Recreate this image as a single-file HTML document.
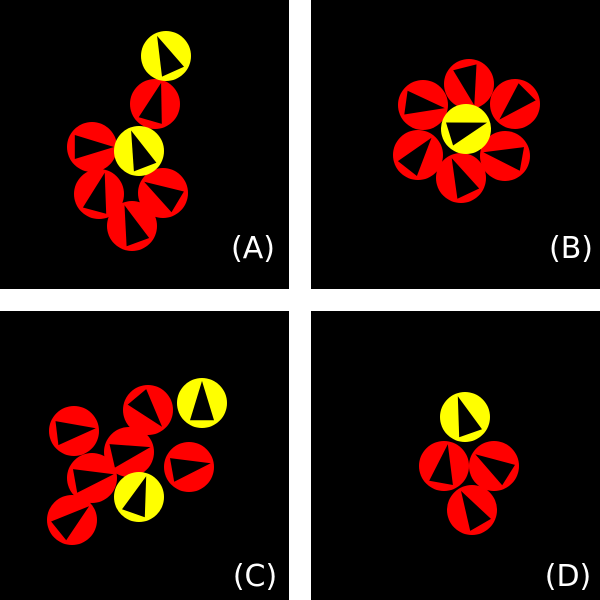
<!DOCTYPE html>
<html><head><meta charset="utf-8"><style>
html,body{margin:0;padding:0;background:#fff;}
svg{display:block;}
</style></head><body>
<svg id="fig" width="600" height="600" viewBox="0 0 600 600" xmlns="http://www.w3.org/2000/svg">
<rect x="0" y="0" width="289" height="289" fill="#000"/>
<rect x="311" y="0" width="289" height="289" fill="#000"/>
<rect x="0" y="311" width="289" height="289" fill="#000"/>
<rect x="311" y="311" width="289" height="289" fill="#000"/>
<g id="agents"></g>
<text x="253" y="258" font-family="DejaVu Sans, Liberation Sans, sans-serif" font-size="30" font-weight="normal" fill="#fff" text-anchor="middle">(A)</text>
<text x="571" y="258" font-family="DejaVu Sans, Liberation Sans, sans-serif" font-size="30" font-weight="normal" fill="#fff" text-anchor="middle">(B)</text>
<text x="255" y="586" font-family="DejaVu Sans, Liberation Sans, sans-serif" font-size="30" font-weight="normal" fill="#fff" text-anchor="middle">(C)</text>
<text x="568" y="586" font-family="DejaVu Sans, Liberation Sans, sans-serif" font-size="30" font-weight="normal" fill="#fff" text-anchor="middle">(D)</text>
</svg>
<script>
// agent data
const agentPanel = ['A','A','A','A','A','A','A','B','B','B','B','B','B','B','C','C','C','C','C','C','C','C','D','D','D','D'];
const agentX = [166,155,92,139,99,163,132, 469,515,423,418,461,505,466, 202,148,74,129,189,92,139,72, 465,444,494,472];
const agentY = [56,104,147,151,194,193,226, 84,104,105,155,178,156,129, 403,410,431,452,467,478,497,520, 417,466,466,510];
const agentHeading = [-114,-74,0,-111,-75,-149,-110, 76,135,8,-52,-115,-170,-17, -90,50,-7,-13,-10,-10,-71,-39, -109,-80,-148,-120];
const agentLeader = [1,0,0,1,0,0,0, 0,0,0,0,0,0,1, 1,0,0,0,0,0,1,0, 1,0,0,0];

const R = 25, TIP = 22, BASE = 21, SPREAD = 145;
const g = document.getElementById('agents');
const NS = 'http://www.w3.org/2000/svg';
function pt(cx, cy, ang, r){ const a = ang*Math.PI/180; return [cx + r*Math.cos(a), cy + r*Math.sin(a)]; }
const order = agentX.map((_, i) => i).sort((a, b) => agentLeader[a] - agentLeader[b]);
order.forEach(i => {
  const grp = document.createElementNS(NS, 'g');
  
  
  const c = document.createElementNS(NS, 'circle');
  c.setAttribute('cx', agentX[i]);
  c.setAttribute('cy', agentY[i]);
  c.setAttribute('r', R);
  c.setAttribute('fill', agentLeader[i] ? '#ffff00' : '#ff0000');
  
  
  grp.appendChild(c);
  const h = agentHeading[i];
  const p1 = pt(agentX[i], agentY[i], h, TIP);
  const p2 = pt(agentX[i], agentY[i], h + SPREAD, BASE);
  const p3 = pt(agentX[i], agentY[i], h - SPREAD, BASE);
  const t = document.createElementNS(NS, 'polygon');
  t.setAttribute('points', [p1, p2, p3].map(p => p[0].toFixed(1) + ',' + p[1].toFixed(1)).join(' '));
  t.setAttribute('fill', '#000');
  
  
  grp.appendChild(t);
  g.appendChild(grp);
});
</script>
</body></html>
